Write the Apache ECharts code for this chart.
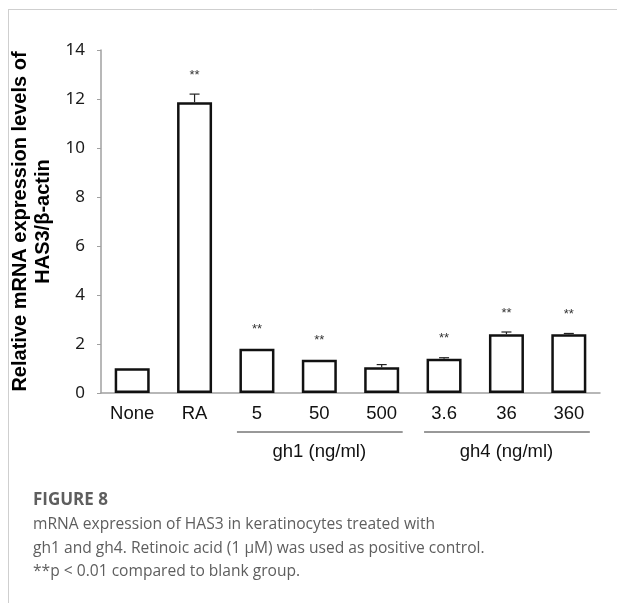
<!DOCTYPE html>
<html>
<head>
<meta charset="utf-8">
<script src="https://cdn.jsdelivr.net/npm/echarts@6/dist/echarts.min.js"></script>
<style>
html,body{margin:0;padding:0;background:#fff;}
#c{width:617px;height:603px;}
</style>
</head>
<body>
<div id="c"></div>
<script>
const categories = ['None', 'RA', '5', '50', '500', '3.6', '36', '360'];
const values = [1.01, 11.87, 1.81, 1.36, 1.05, 1.40, 2.40, 2.40];
const errTops = [1.01, 12.2, 1.81, 1.36, 1.16, 1.44, 2.49, 2.43];
const stars = ['', '**', '**', '**', '', '**', '**', '**'];
const groups = [
  { label: 'gh1 (ng/ml)', from: 2, to: 4 },
  { label: 'gh4 (ng/ml)', from: 5, to: 7 }
];
const yTicks = { min: 0, max: 14, interval: 2 };
const yTitle = 'Relative mRNA expression levels of\nHAS3/β-actin';
const captionTitle = 'FIGURE 8';
const captionLines = [
  'mRNA expression of HAS3 in keratinocytes treated with',
  'gh1 and gh4. Retinoic acid (1 μM) was used as positive control.',
  '**p < 0.01 compared to blank group.'
];

const chart = echarts.init(document.getElementById('c'), null, { renderer: 'canvas' });

const option = {
  animation: false,
  backgroundColor: '#fff',
  grid: { left: 101, right: 17, top: 50, bottom: 210, containLabel: false, outerBoundsMode: 'none' },
  xAxis: {
    type: 'category',
    data: categories,
    axisLine: { show: true, lineStyle: { color: '#a0a0a0', width: 1.5 } },
    axisTick: { show: false },
    axisLabel: { color: '#111', fontSize: 18.5, fontFamily: 'Liberation Sans, Arial', margin: 11 }
  },
  yAxis: {
    type: 'value',
    min: yTicks.min, max: yTicks.max, interval: yTicks.interval,
    name: yTitle,
    nameLocation: 'middle',
    nameRotate: 90,
    nameGap: 41,
    nameTextStyle: { fontSize: 20, fontWeight: 'bold', fontFamily: 'Liberation Sans, Arial', color: '#000', lineHeight: 23 },
    axisLine: { show: true, lineStyle: { color: '#a0a0a0', width: 1.5 } },
    axisTick: { show: true, length: 4, lineStyle: { color: '#a0a0a0' } },
    splitLine: { show: false },
    axisLabel: { color: '#1a1a1a', fontSize: 17, fontFamily: 'Noto Sans, Open Sans', margin: 16 }
  },
  series: [
    {
      type: 'bar',
      data: values,
      barWidth: 35,
      itemStyle: { color: '#fff', borderColor: '#111', borderWidth: 2.5 },
      z: 2
    },
    {
      type: 'custom',
      z: 3,
      data: categories.map((c, i) => [i, values[i], errTops[i], stars[i]]),
      renderItem: function (params, api) {
        const x = api.value(0);
        const lo = api.coord([x, api.value(1)]);
        const hi = api.coord([x, api.value(2)]);
        const children = [];
        if (hi[1] < lo[1] - 0.5) {
          children.push({ type: 'line', shape: { x1: lo[0], y1: lo[1], x2: hi[0], y2: hi[1] }, style: { stroke: '#222', lineWidth: 1.2 } });
          children.push({ type: 'line', shape: { x1: hi[0] - 5, y1: hi[1], x2: hi[0] + 5, y2: hi[1] }, style: { stroke: '#222', lineWidth: 1.2 } });
        }
        const s = stars[params.dataIndex];
        if (s) {
          children.push({ type: 'text', style: { text: s, x: hi[0], y: hi[1] - 19, align: 'center', verticalAlign: 'middle', fontSize: 13, fill: '#333', fontFamily: 'Liberation Sans, Arial' } });
        }
        return { type: 'group', children: children };
      }
    }
  ]
};
chart.setOption(option);

function buildGraphics() {
  const g = [];
  g.push({ type: 'line', shape: { x1: 8, y1: 9.5, x2: 617, y2: 9.5 }, style: { stroke: '#cfcfcf', lineWidth: 1 } });
  g.push({ type: 'line', shape: { x1: 8.5, y1: 9, x2: 8.5, y2: 603 }, style: { stroke: '#cfcfcf', lineWidth: 1 } });
  const y0 = chart.convertToPixel({ yAxisIndex: 0 }, 0);
  groups.forEach(gr => {
    const xa = chart.convertToPixel({ xAxisIndex: 0 }, categories[gr.from]);
    const xb = chart.convertToPixel({ xAxisIndex: 0 }, categories[gr.to]);
    const ly = y0 + 39;
    g.push({ type: 'line', shape: { x1: xa - 20, y1: ly, x2: xb + 21, y2: ly }, style: { stroke: '#333', lineWidth: 1 } });
    g.push({ type: 'text', style: { text: gr.label, x: (xa + xb) / 2, y: ly + 20, align: 'center', verticalAlign: 'middle', fontSize: 18.5, fill: '#111', fontFamily: 'Liberation Sans, Arial' } });
  });
  g.push({ type: 'text', style: { text: captionTitle, x: 33, y: 500, verticalAlign: 'middle', fontSize: 17, fontWeight: 'bold', fill: '#5e5e5e', fontFamily: 'Open Sans, Noto Sans' } });
  captionLines.forEach((t, i) => {
    g.push({ type: 'text', style: { text: t, x: 33, y: 525 + i * 23.5, verticalAlign: 'middle', fontSize: 15.6, fill: '#5e5e5e', fontFamily: 'Open Sans, Noto Sans' } });
  });
  chart.setOption({ graphic: g });
}
buildGraphics();
</script>
</body>
</html>
